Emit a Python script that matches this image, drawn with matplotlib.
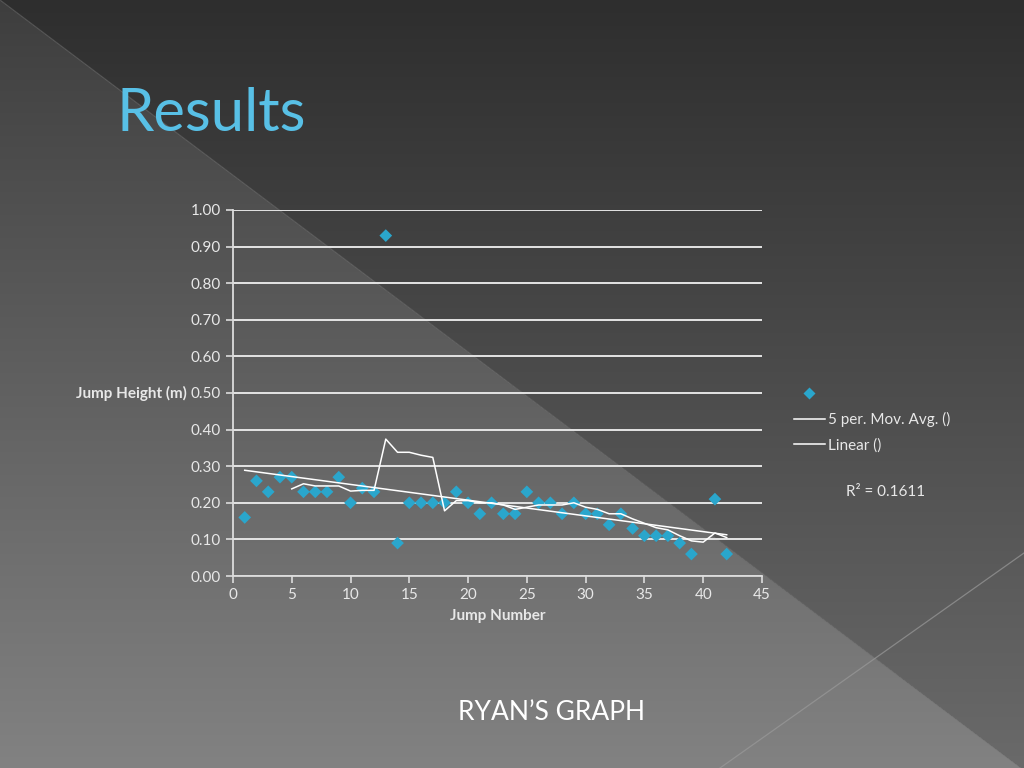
import numpy as np
import pandas as pd
import matplotlib
matplotlib.use("Agg")
import matplotlib.pyplot as plt
from matplotlib.lines import Line2D

# jump data (jump 40 has no value)
jump_number = list(range(1, 43))
jump_height = [0.16, 0.26, 0.23, 0.27, 0.27, 0.23, 0.23, 0.23, 0.27, 0.20,
               0.24, 0.23, 0.93, 0.09, 0.20, 0.20, 0.20, 0.20, 0.23, 0.20,
               0.17, 0.20, 0.17, 0.17, 0.23, 0.20, 0.20, 0.17, 0.20, 0.17,
               0.17, 0.14, 0.17, 0.13, 0.11, 0.11, 0.11, 0.09, 0.06, np.nan,
               0.21, 0.06]
r2_text = "R² = 0.1611"
x_ticks = [0, 5, 10, 15, 20, 25, 30, 35, 40, 45]
y_ticks = [0.0, 0.1, 0.2, 0.3, 0.4, 0.5, 0.6, 0.7, 0.8, 0.9, 1.0]

FONT = "Lato"
BLUE = "#2aa6cc"
TXT = "#e8e8e8"

df = pd.DataFrame({"jump": jump_number, "height": jump_height})

# excel style moving average: blanks skipped, first full window at point 5
mov = df["height"].rolling(5, min_periods=1).mean()
mov.iloc[:4] = np.nan

ok = df["height"].notna()
slope, icpt = np.polyfit(df.loc[ok, "jump"], df.loc[ok, "height"], 1)
trend_x = np.array([df["jump"].min(), df["jump"].max()])
trend_y = slope * trend_x + icpt

fig = plt.figure(figsize=(10.24, 7.68), dpi=100)

# slide background: two vertical gradients split by the diagonal
bg = fig.add_axes([0, 0, 1, 1])
bg.set_axis_off()
H, W = 768, 1024
yy, xx = np.mgrid[0:H, 0:W]
t = yy / H
dark = 46 + 60 * t
light = 62 + 68 * t
below = yy > xx * (770 / 1024)
img = np.where(below, light, dark) / 255.0
bg.imshow(np.dstack([img, img, img]), extent=(0, W, H, 0), aspect="auto")
bg.plot([0, 1024], [0, 770], color="#6a6a6a", lw=0.8, alpha=0.6)
bg.plot([720, 1024], [768, 553], color="#9a9a9a", lw=0.9, alpha=0.7)
bg.set_xlim(0, W)
bg.set_ylim(H, 0)

fig.text(0.114, 0.83, "Results", color="#58c0e6", fontsize=43,
         fontfamily=FONT)
fig.text(0.539, 0.063, "RYAN’S GRAPH", color="white", fontsize=19,
         fontfamily=FONT, ha="center")

ax = fig.add_axes([0.2275, 0.25, 0.5166, 0.4766])
ax.patch.set_alpha(0)
for s in ["top", "right"]:
    ax.spines[s].set_visible(False)
for s in ["left", "bottom"]:
    ax.spines[s].set_color("#dcdcdc")
    ax.spines[s].set_linewidth(1.3)

ax.yaxis.grid(True, color="#e4e4e4", lw=1.4)
ax.set_axisbelow(True)

ax.scatter(df["jump"], df["height"], marker="D", s=42, color=BLUE,
           edgecolor="none", zorder=3)
ax.plot(df["jump"], mov, color="white", lw=1.1, zorder=4)
ax.plot(trend_x, trend_y, color="white", lw=1.1, zorder=4)

ax.set_xlim(0, 45)
ax.set_ylim(0, 1.0)
ax.set_xticks(x_ticks)
ax.set_yticks(y_ticks)
ax.set_yticklabels(["%.2f" % v for v in y_ticks])
ax.tick_params(colors="#dcdcdc", labelcolor=TXT, labelsize=11, length=5,
               width=1.2)
for lab in ax.get_xticklabels() + ax.get_yticklabels():
    lab.set_fontfamily(FONT)

ax.set_xlabel("Jump Number", color=TXT, fontsize=11, fontweight="bold",
              fontfamily=FONT, labelpad=5)
ax.set_ylabel("Jump Height (m)", color=TXT, fontsize=11, fontweight="bold",
              fontfamily=FONT, rotation=0, ha="right", va="center")
ax.yaxis.set_label_coords(-0.088, 0.5)

handles = [Line2D([], [], ls="none", marker="D", ms=6, color=BLUE, mec="none"),
           Line2D([], [], color="white", lw=1.1),
           Line2D([], [], color="white", lw=1.1)]
labels = ["", "5 per. Mov. Avg. ()", "Linear ()"]
leg = fig.legend(handles, labels, loc="upper left",
                 bbox_to_anchor=(0.768, 0.506), frameon=False, borderpad=0,
                 handlelength=2.0, handletextpad=0.25, labelspacing=0.72,
                 prop={"family": FONT, "size": 11})
for txt in leg.get_texts():
    txt.set_color(TXT)

fig.text(0.865, 0.359, r2_text, color=TXT, fontsize=11, fontfamily=FONT,
         ha="center", va="center")

fig.savefig("out.png", dpi=100)
